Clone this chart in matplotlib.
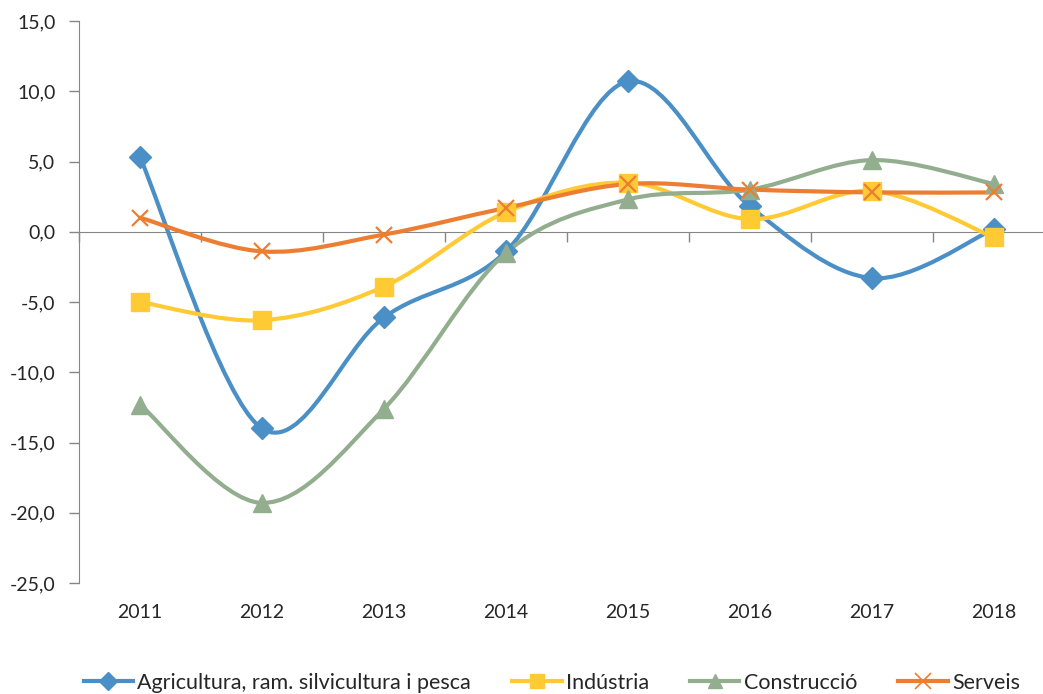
import numpy as np
import matplotlib
matplotlib.use("Agg")
import matplotlib.pyplot as plt
from matplotlib.path import Path
from matplotlib.patches import PathPatch
from matplotlib.lines import Line2D
from matplotlib.ticker import FuncFormatter

plt.rcParams['font.family'] = ['Lato', 'DejaVu Sans']
plt.rcParams['axes.unicode_minus'] = False

years = ['2011', '2012', '2013', '2014', '2015', '2016', '2017', '2018']
agricultura = [5.3, -14.0, -6.1, -1.4, 10.7, 1.8, -3.3, 0.2]
industria = [-5.0, -6.3, -3.9, 1.4, 3.5, 0.9, 2.9, -0.4]
construccio = [-12.3, -19.3, -12.6, -1.5, 2.3, 3.0, 5.1, 3.4]
serveis = [1.0, -1.4, -0.2, 1.7, 3.4, 3.0, 2.8, 2.8]

series = [
    ('Agricultura, ram. silvicultura i pesca', agricultura, '#4a8fc6', 'D', 11, None),
    ('Indústria', industria, '#ffca33', 's', 13, None),
    ('Construcció', construccio, '#93ae8f', '^', 13, None),
    ('Serveis', serveis, '#ed7d31', 'x', 12, 1.6),
]


def smooth_path(x, y, t=1/6.):
    # excel-like smoothed line: cubic bezier through each point
    pts = np.column_stack([x, y]).astype(float)
    n = len(pts)
    verts = [pts[0]]
    codes = [Path.MOVETO]
    for i in range(n - 1):
        p0 = pts[i - 1] if i > 0 else pts[i]
        p1 = pts[i]
        p2 = pts[i + 1]
        p3 = pts[i + 2] if i + 2 < n else pts[i + 1]
        c1 = p1 + (p2 - p0) * t
        c2 = p2 - (p3 - p1) * t
        verts += [c1, c2, p2]
        codes += [Path.CURVE4] * 3
    return Path(verts, codes)


fig = plt.figure(figsize=(10.43, 6.94), dpi=100)
ax = fig.add_axes([79/1043, 1 - 583/694, 976/1043, 562/694])

x = np.arange(len(years))
handles = []
for name, vals, col, mk, ms, mew in series:
    ax.add_patch(PathPatch(smooth_path(x, vals), facecolor='none', edgecolor=col,
                           lw=3, capstyle='round', joinstyle='round', zorder=3))
    if mk == 'x':
        ax.plot(x, vals, ls='none', marker=mk, ms=ms, mec=col, mew=mew, zorder=4)
        h = Line2D([], [], color=col, lw=3, marker=mk, ms=ms, mec=col, mew=1.2)
    else:
        ax.plot(x, vals, ls='none', marker=mk, ms=ms, mfc=col, mec=col, zorder=4)
        h = Line2D([], [], color=col, lw=3, marker=mk, ms=ms * 0.8, mfc=col, mec=col)
    handles.append(h)

ax.set_xlim(-0.5, len(years) - 0.5)
ax.set_ylim(-25, 15)
ax.set_yticks(np.arange(-25, 16, 5))
ax.yaxis.set_major_formatter(FuncFormatter(lambda v, p: ('%.1f' % v).replace('.', ',')))
ax.tick_params(axis='y', direction='out', length=7, width=1, color='#868686',
               labelsize=14, pad=10, labelcolor='#262626')

# category axis crosses at zero, ticks between categories
ax.spines['bottom'].set_position(('data', 0))
ax.spines['bottom'].set_color('#868686')
ax.spines['left'].set_color('#868686')
ax.spines['top'].set_visible(False)
ax.spines['right'].set_visible(False)
ax.set_xticks(np.arange(-0.5, len(years), 1.0))
ax.set_xticklabels([])
ax.tick_params(axis='x', direction='out', length=7, width=1, color='#868686')

# year labels at the bottom of the plot area
lab = ax.secondary_xaxis('bottom')
lab.set_xticks(x)
lab.set_xticklabels(years)
lab.spines['bottom'].set_visible(False)
lab.tick_params(length=0, labelsize=14, pad=15, labelcolor='#262626')

fig.legend(handles, [s[0] for s in series], loc='center', bbox_to_anchor=(0.529, 0.016),
           ncol=4, frameon=False, fontsize=15.5, handlelength=2.3, handletextpad=0.2,
           columnspacing=1.9, labelcolor='#262626')

fig.savefig('out.png', dpi=100)
